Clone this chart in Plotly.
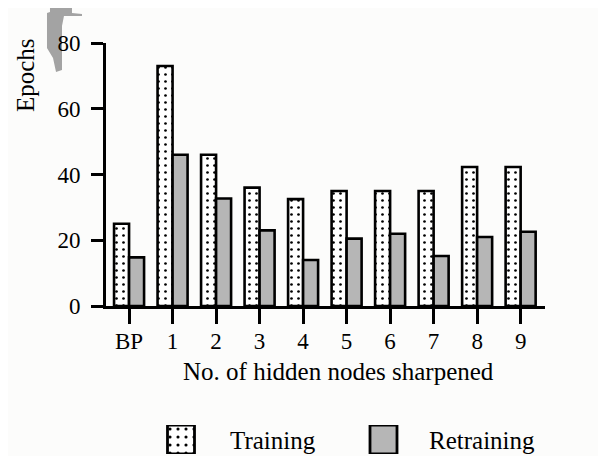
import plotly.graph_objects as go

# the page has an 8px body margin, so the figure is made 8px smaller
# and every position below is given in window pixels
OFF = 8
W, H = 606 - OFF, 456 - OFF

categories = ["BP", "1", "2", "3", "4", "5", "6", "7", "8", "9"]
training = [25, 73, 46, 36, 32.5, 35, 35, 35, 42.3, 42.3]
retraining = [14.8, 46, 32.7, 23, 14, 20.5, 22, 15.2, 21, 22.6]
y_ticks = [0, 20, 40, 60, 80]
legend_labels = ["Training", "Retraining"]

FONT = "Liberation Serif, Times New Roman, serif"
GRAY = "#b6b6b6"


def px(x):
    return (x - OFF) / W


def py(y):
    return 1 - (y - OFF) / H


fig = go.Figure()

fig.add_trace(go.Bar(
    x=categories, y=training, name="Training",
    marker=dict(color="white",
                line=dict(color="black", width=2.6),
                pattern=dict(shape=".", size=7, solidity=0.12,
                             fgcolor="black", bgcolor="white")),
    xaxis="x", yaxis="y",
))
fig.add_trace(go.Bar(
    x=categories, y=retraining, name="Retraining",
    marker=dict(color=GRAY, line=dict(color="black", width=2.6)),
    xaxis="x", yaxis="y",
))

# legend swatches on their own little axis below the chart
fig.add_trace(go.Bar(
    x=[181], y=[1], width=[27],
    marker=dict(color="white",
                line=dict(color="black", width=2.8),
                pattern=dict(shape=".", size=8, solidity=0.12,
                             fgcolor="black", bgcolor="white")),
    xaxis="x2", yaxis="y2", hoverinfo="skip",
))
fig.add_trace(go.Bar(
    x=[383.5], y=[1], width=[27],
    marker=dict(color=GRAY, line=dict(color="black", width=2.8)),
    xaxis="x2", yaxis="y2", hoverinfo="skip",
))

axis_font = dict(family=FONT, size=23, color="black")

fig.update_layout(
    template="none",
    width=W, height=H,
    margin=dict(l=0, r=0, t=0, b=0, pad=0, autoexpand=False),
    paper_bgcolor="#fcfcfb",
    plot_bgcolor="rgba(0,0,0,0)",
    showlegend=False,
    barmode="group",
    bargap=0.31,
    bargroupgap=0,
    xaxis=dict(
        domain=[px(106), px(545)],
        type="category",
        range=[-0.53, 9.56],
        automargin=False,
        showline=True, linecolor="black", linewidth=3,
        ticks="outside", ticklen=15, tickwidth=3, tickcolor="black",
        tickfont=axis_font,
        ticklabelstandoff=-3,
        showgrid=False, zeroline=False,
    ),
    yaxis=dict(
        domain=[py(306), py(43)],
        range=[0, 80],
        tickvals=y_ticks,
        automargin=False,
        showline=True, linecolor="black", linewidth=3,
        ticks="outside", ticklen=12, tickwidth=3, tickcolor="black",
        tickfont=axis_font,
        ticklabelstandoff=6,
        showgrid=False, zeroline=False,
    ),
    xaxis2=dict(
        domain=[px(150), px(420)], range=[150, 420],
        visible=False, fixedrange=True, automargin=False,
    ),
    yaxis2=dict(
        domain=[py(454), py(425)], range=[0, 1],
        visible=False, fixedrange=True, automargin=False,
    ),
)

title_font = dict(family=FONT, size=25, color="black")

fig.add_annotation(
    text="No. of hidden nodes sharpened",
    xref="paper", yref="paper", x=px(338), y=py(371),
    xanchor="center", yanchor="middle", showarrow=False, font=title_font,
)
fig.add_annotation(
    text="Epochs",
    xref="paper", yref="paper", x=px(26), y=py(75),
    xanchor="center", yanchor="middle", textangle=-90,
    showarrow=False, font=title_font,
)
for label, left in zip(legend_labels, [228, 427]):
    fig.add_annotation(
        text=label,
        xref="paper", yref="paper", x=px(left), y=py(440),
        xanchor="left", yanchor="middle", showarrow=False, font=title_font,
    )

# grey smudge left by the scan, top left corner
smudge = [(50, 8), (72, 8), (72, 13), (82, 14), (82, 16), (64, 16),
          (62, 26), (62, 70), (56, 72), (53, 58), (47, 48), (47, 13), (50, 12)]
path = "M " + " L ".join(f"{px(a):.4f},{py(b):.4f}" for a, b in smudge) + " Z"
fig.add_shape(type="path", path=path, xref="paper", yref="paper",
              fillcolor="#a3a3a3", line=dict(width=0), layer="below")

fig.write_html("out.html")
